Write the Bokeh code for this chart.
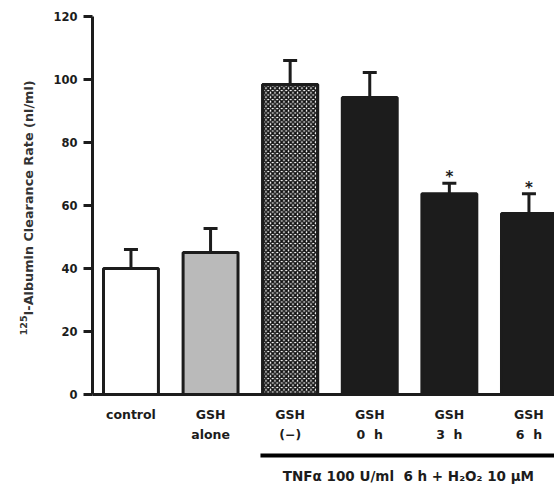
import math
from bokeh.plotting import figure
from bokeh.models import (ColumnDataSource, Range1d, LinearAxis, FixedTicker,
                          Whisker, TeeHead)
from bokeh.core.properties import value
from bokeh.embed import file_html
from bokeh.resources import INLINE

# ---- data ----
categories = ["control", "GSH alone", "GSH (−)", "GSH 0 h", "GSH 3 h", "GSH 6 h"]
tick_labels = ["control", "GSH\nalone", "GSH\n(−)", "GSH\n0\u00a0\u00a0h",
               "GSH\n3\u00a0\u00a0h", "GSH\n6\u00a0\u00a0h"]
clearance = [40.0, 45.1, 98.4, 94.3, 63.7, 57.5]
sem = [6.0, 7.6, 7.6, 7.9, 3.4, 6.2]
significant = [False, False, False, False, True, True]
y_ticks = [0, 20, 40, 60, 80, 100, 120]
y_label_sup = "125"
y_label = "I-Albumin Clearance Rate (nl/ml)"
treatment_label = "TNFα 100 U/ml\u00a0\u00a06 h + H₂O₂ 10 μM"
treated_first = 3  # position of first TNF-treated group

xs = list(range(1, len(categories) + 1))
upper = [c + e for c, e in zip(clearance, sem)]

FONT = "DejaVu Sans"
INK = "#1c1c1c"

p = figure(width=554, height=487, output_backend="svg", toolbar_location=None,
           x_range=Range1d(-0.639, 6.321), y_range=Range1d(-29.52, 125.08),
           x_axis_type=None, y_axis_type=None, min_border=0,
           outline_line_color=None)
p.grid.visible = False
p.background_fill_color = "white"
p.border_fill_color = "white"

# axes
yaxis = LinearAxis(fixed_location=0.516, bounds=(0, 120),
                   ticker=FixedTicker(ticks=y_ticks))
yaxis.axis_line_width = 3
yaxis.axis_line_color = INK
yaxis.major_tick_out = 9
yaxis.major_tick_in = 0
yaxis.major_tick_line_width = 3
yaxis.major_tick_line_color = INK
yaxis.minor_tick_line_color = None
yaxis.major_label_standoff = 6
yaxis.major_label_text_font = FONT
yaxis.major_label_text_font_style = "bold"
yaxis.major_label_text_font_size = "11.5px"
yaxis.major_label_text_color = INK
p.add_layout(yaxis, "left")

xaxis = LinearAxis(fixed_location=0, bounds=(0.516, 6.321),
                   ticker=FixedTicker(ticks=xs),
                   major_label_overrides={x: t for x, t in zip(xs, tick_labels)})
xaxis.axis_line_width = 3
xaxis.axis_line_color = INK
xaxis.major_tick_out = 0
xaxis.major_tick_in = 0
xaxis.minor_tick_line_color = None
xaxis.major_label_standoff = 12
xaxis.major_label_text_font = FONT
xaxis.major_label_text_font_style = "bold"
xaxis.major_label_text_font_size = "12.5px"
xaxis.major_label_text_line_height = 1.35
xaxis.major_label_text_color = INK
p.add_layout(xaxis, "below")

# bars
fills = ["white", "#bababa", "white", INK, INK, INK]
src = ColumnDataSource(dict(x=xs, top=clearance, upper=upper, fill=fills))
p.vbar(x="x", top="top", bottom=0, width=0.69, source=src,
       fill_color="fill", line_color=INK, line_width=3)
# cross-hatched bar (GSH (−))
i = 2
p.vbar(x=[xs[i]], top=[clearance[i]], bottom=0, width=0.69,
       fill_color="white", hatch_pattern="diagonal_cross", hatch_color="#111111",
       hatch_scale=4.5, hatch_weight=1.7, line_color=INK, line_width=3)

# error bars (upper only)
w = Whisker(source=src, base="x", lower="top", upper="upper", dimension="height",
            line_color=INK, line_width=3,
            upper_head=TeeHead(size=14, line_width=3, line_color=INK),
            lower_head=None)
p.add_layout(w)

# significance stars
sx = [x for x, s in zip(xs, significant) if s]
sy = [u for u, s in zip(upper, significant) if s]
p.text(x=sx, y=sy, text=["*"] * len(sx), text_align="center", text_baseline="middle",
       y_offset=-6, text_font=value(FONT), text_font_style="bold",
       text_font_size="15px", text_color=INK)

# y-axis title (with superscript mass number)
p.text(x=[-0.282], y=[25.1], text=[y_label], angle=math.pi / 2,
       text_align="left", text_baseline="middle",
       text_font=value(FONT), text_font_style="bold", text_font_size="12.8px",
       text_color="#333333")
p.text(x=[-0.282], y=[25.1], text=[y_label_sup], angle=math.pi / 2,
       x_offset=-5, text_align="right", text_baseline="middle",
       text_font=value(FONT), text_font_style="bold", text_font_size="9.5px",
       text_color="#333333")

# treatment bracket
p.segment(x0=[xs[treated_first - 1] - 0.373], y0=[-19.4], x1=[6.321], y1=[-19.4],
          line_width=4, line_color="black")
p.text(x=[4.486], y=[-26.0], text=[treatment_label], text_align="center",
       text_baseline="middle", text_font=value(FONT), text_font_style="bold",
       text_font_size="13.5px", text_color=INK)

open("out.html", "w").write(file_html(p, INLINE))
